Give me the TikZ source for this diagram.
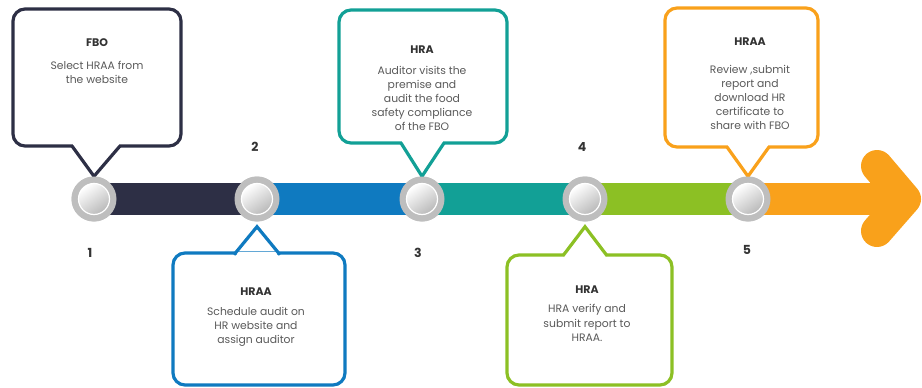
\documentclass[tikz,border=0pt]{standalone}
\usepackage{fontspec}
\setmainfont{Poppins}
\usetikzlibrary{calc}

\definecolor{navy}{HTML}{2D2F45}
\definecolor{stepblue}{HTML}{0F7AC0}
\definecolor{teal}{HTML}{12A096}
\definecolor{lime}{HTML}{8CC024}
\definecolor{amber}{HTML}{F9A11B}
\definecolor{ringgray}{HTML}{BEBEBE}
\definecolor{bodygray}{HTML}{5A5A5A}
\definecolor{titlegray}{HTML}{333333}

\begin{document}
\begin{tikzpicture}[x=1pt,y=1pt]
\tikzstyle{every node}+=[inner sep=0pt]
\tikzstyle{box}=[draw, line width=3.2pt, rounded corners=12pt, fill=white]
\tikzstyle{vee}=[line width=3.2pt, line join=miter]
\tikzstyle{ring}=[circle, fill=ringgray, minimum size=45pt]
\tikzstyle{ball}=[circle, draw=white, line width=1.2pt, minimum size=31pt, top color=white, bottom color=gray!55, shading angle=35]
\tikzstyle{title}=[font=\fontsize{11}{13}\selectfont\bfseries, text=titlegray]
\tikzstyle{body}=[font=\fontsize{10.8}{14.2}\selectfont, text=bodygray, align=center]
\tikzstyle{num}=[font=\fontsize{12.5}{14}\selectfont\bfseries, text=titlegray]
\useasboundingbox (0,0) rectangle (922,-388);

\node[box, draw=navy, minimum width=168pt, minimum height=137pt] (b1) at (97,-77.5) {};
\node[box, draw=stepblue, minimum width=172pt, minimum height=132pt] (b2) at (259,-319) {};
\node[box, draw=teal, minimum width=168pt, minimum height=133pt] (b3) at (423,-76.5) {};
\node[box, draw=lime, minimum width=165pt, minimum height=130pt] (b4) at (589.5,-320) {};
\node[box, draw=amber, minimum width=153pt, minimum height=139pt] (b5) at (741.5,-77.5) {};

\node[ring] (r1) at (94,-199) {};
\node[ring] (r2) at (257,-199) {};
\node[ring] (r3) at (422,-199) {};
\node[ring] (r4) at (585,-199) {};
\node[ring] (r5) at (748,-199) {};
\coordinate (tip) at (890,-199);

\fill[white] (72,-146) -- (r1.north) -- (120,-146) -- cycle;
\draw[white, line width=3.4pt] (73,-146) -- (119,-146);
\draw[vee, navy] (72,-146) -- (r1.north) -- (120,-146);
\fill[white] ($(r2.south)+(-21,-26)$) -- ($(r2.south)+(0,-5)$) -- ($(r2.south)+(21,-26)$) -- cycle;
\draw[white, line width=3.4pt] ($(r2.south)+(-20,-32)$) -- ($(r2.south)+(20,-32)$);
\draw[vee, stepblue] ($(r2.south)+(-23,-33)$) -- ($(r2.south)+(0,-5)$) -- ($(r2.south)+(23,-33)$);
\fill[white] (401,-143) -- (r3.north) -- (444,-143) -- cycle;
\draw[white, line width=3.4pt] (402,-143) -- (443,-143);
\draw[vee, teal] (401,-143) -- (r3.north) -- (444,-143);
\fill[white] ($(r4.south)+(-22,-34)$) -- ($(r4.south)+(0,-5)$) -- ($(r4.south)+(22,-34)$) -- cycle;
\draw[white, line width=3.4pt] ($(r4.south)+(-21,-34)$) -- ($(r4.south)+(21,-34)$);
\draw[vee, lime] ($(r4.south)+(-22,-34)$) -- ($(r4.south)+(0,-5)$) -- ($(r4.south)+(22,-34)$);
\fill[white] (727,-147) -- (r5.north) -- (769,-147) -- cycle;
\draw[white, line width=3.4pt] (728,-147) -- (768,-147);
\draw[vee, amber] (727,-147) -- (r5.north) -- (769,-147);

\draw[navy, line width=32pt] (r1.center) -- (r2.center);
\draw[stepblue, line width=32pt] (r2.center) -- (r3.center);
\draw[teal, line width=32pt] (r3.center) -- (r4.center);
\draw[lime, line width=32pt] (r4.center) -- (r5.center);
\draw[amber, line width=32pt] (r5.center) -- (tip);
\draw[amber, line width=32pt, line cap=round, line join=round] (877,-166) -- (905,-199) -- (877,-231);

\node[ring] at (r1) {};
\node[ring] at (r2) {};
\node[ring] at (r3) {};
\node[ring] at (r4) {};
\node[ring] at (r5) {};
\node[ball] (c1) at (r1) {};
\node[ball] (c2) at (r2) {};
\node[ball] (c3) at (r3) {};
\node[ball] (c4) at (r4) {};
\node[ball] (c5) at (r5) {};

\node[num] (n1) at (90,-253) {1};
\node[num] (n2) at (255,-147) {2};
\node[num] (n3) at (418,-253) {3};
\node[num] (n4) at (582,-147) {4};
\node[num] (n5) at (747,-250) {5};

\node[title] (h1) at (97,-43) {FBO};
\node[body] (t1) at (97,-72.5) {Select HRAA from\\the website};
\node[title] (h2) at (256,-292) {HRAA};
\node[body] (t2) at (256,-327) {Schedule audit on\\HR website and\\assign auditor};
\node[title] (h3) at (422,-50) {HRA};
\node[body] (t3) at (422,-98.5) {Auditor visits the\\premise and\\audit the food\\safety compliance\\of the FBO};
\node[title] (h4) at (587,-290) {HRA};
\node[body] (t4) at (587,-323) {HRA verify and\\submit report to\\HRAA.};
\node[title] (h5) at (750,-42) {HRAA};
\node[body] (t5) at (750,-97.5) {Review ,submit\\report and\\download HR\\certificate to\\share with FBO};
\end{tikzpicture}
\end{document}
